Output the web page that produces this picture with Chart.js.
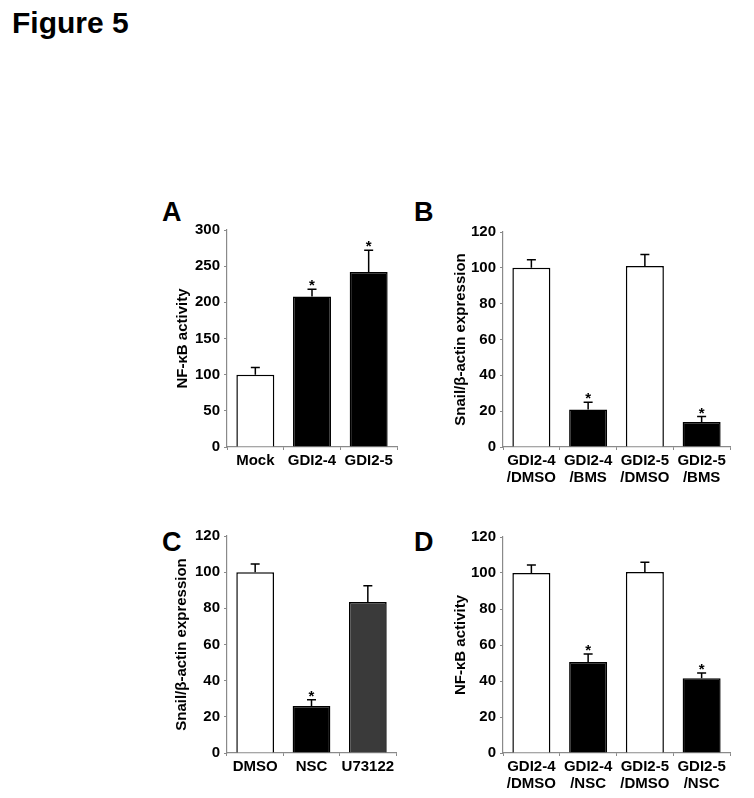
<!DOCTYPE html>
<html>
<head>
<meta charset="utf-8">
<script src="https://cdn.jsdelivr.net/npm/chart.js@4"></script>
<style>
  html, body { margin: 0; padding: 0; background: #fff; overflow: hidden; }
  body { width: 754px; height: 798px; position: relative; font-family: "Liberation Sans", Arial, sans-serif; }
  canvas { position: absolute; }
  .lbl { position: absolute; font-weight: bold; line-height: 1; color: #000; }
</style>
</head>
<body>
<div class="lbl" style="left:12px; top:8px; font-size:30px;">Figure 5</div>
<div class="lbl" style="left:162px; top:199px; font-size:27px;">A</div>
<div class="lbl" style="left:414px; top:199px; font-size:27px;">B</div>
<div class="lbl" style="left:162px; top:529px; font-size:27px;">C</div>
<div class="lbl" style="left:414px; top:529px; font-size:27px;">D</div>

<canvas id="chartA"></canvas>
<canvas id="chartB"></canvas>
<canvas id="chartC"></canvas>
<canvas id="chartD"></canvas>

<script>
// panel A
const catsA = ['Mock', 'GDI2-4', 'GDI2-5'];
const valsA = [100, 208, 242];
const errsA = [10, 10, 30];
const starsA = [false, true, true];

// panel B
const catsB = [['GDI2-4', '/DMSO'], ['GDI2-4', '/BMS'], ['GDI2-5', '/DMSO'], ['GDI2-5', '/BMS']];
const valsB = [100, 21, 101, 14];
const errsB = [4.5, 4, 6.5, 3];
const starsB = [false, true, false, true];

// panel C
const catsC = ['DMSO', 'NSC', 'U73122'];
const valsC = [100, 26, 83.5];
const errsC = [4.5, 3.5, 9];
const starsC = [false, true, false];

// panel D
const catsD = [['GDI2-4', '/DMSO'], ['GDI2-4', '/NSC'], ['GDI2-5', '/DMSO'], ['GDI2-5', '/NSC']];
const valsD = [100, 50.5, 100.5, 41.5];
const errsD = [4.5, 4.5, 5.5, 3];
const starsD = [false, true, false, true];

const FONT = '"Liberation Sans", Arial, sans-serif';
const AXIS = '#8a8a8a';

// error bars (upper only) + significance stars
const errorBars = {
    id: 'errorBars',
    afterDatasetsDraw(chart) {
        const ds = chart.data.datasets[0];
        const meta = chart.getDatasetMeta(0);
        const y = chart.scales.y;
        const ctx = chart.ctx;
        ctx.save();
        ctx.strokeStyle = '#000';
        ctx.lineWidth = 1.5;
        meta.data.forEach((bar, i) => {
            const top = y.getPixelForValue(ds.data[i] + ds.errors[i]);
            ctx.beginPath();
            ctx.moveTo(bar.x, bar.y);
            ctx.lineTo(bar.x, top);
            ctx.moveTo(bar.x - 4.5, top);
            ctx.lineTo(bar.x + 4.5, top);
            ctx.stroke();
            if (ds.stars[i]) {
                ctx.fillStyle = '#000';
                ctx.font = 'bold 15px ' + FONT;
                ctx.textAlign = 'center';
                ctx.textBaseline = 'alphabetic';
                ctx.fillText('*', bar.x, top + 1);
            }
        });
        ctx.restore();
    }
};

function makePanel(id, box, labels, values, errors, stars, colors, yMax, step, title, titlePad) {
    const cv = document.getElementById(id);
    const left = box[0] - 67, top = box[1] - 15;
    cv.width = box[2] - box[0] + 67 + 8;
    cv.height = box[3] - box[1] + 15 + 50;
    cv.style.left = left + 'px';
    cv.style.top = top + 'px';

    return new Chart(cv.getContext('2d'), {
        type: 'bar',
        data: {
            labels: labels,
            datasets: [{
                data: values,
                errors: errors,
                stars: stars,
                backgroundColor: colors,
                borderColor: '#000',
                borderWidth: 1.5,
                borderSkipped: 'bottom',
                categoryPercentage: 1,
                barPercentage: 0.67
            }]
        },
        options: {
            responsive: false,
            animation: false,
            devicePixelRatio: 1,
            layout: { padding: { top: 15, right: 8, left: 0, bottom: 0 } },
            plugins: { legend: { display: false }, tooltip: { enabled: false } },
            scales: {
                x: {
                    grid: { display: true, drawOnChartArea: false, offset: true, tickLength: 3, color: AXIS },
                    border: { color: AXIS, width: 1.2 },
                    ticks: { color: '#000', padding: 2, maxRotation: 0, autoSkip: false,
                        font: { family: FONT, size: 15, weight: 'bold', lineHeight: 1.15 } },
                    afterFit: s => { s.height = 50; }
                },
                y: {
                    min: 0, max: yMax,
                    grid: { display: true, drawOnChartArea: false, tickLength: 3, color: AXIS },
                    border: { color: AXIS, width: 1.2 },
                    ticks: { stepSize: step, color: '#000', padding: 4,
                        font: { family: FONT, size: 15, weight: 'bold' } },
                    title: { display: true, text: title, color: '#000', padding: { top: titlePad, bottom: 0 },
                        font: { family: FONT, size: 15, weight: 'bold' } },
                    afterFit: s => { s.width = 67; }
                }
            }
        },
        plugins: [errorBars]
    });
}

makePanel('chartA', [227, 230, 397, 447], catsA, valsA, errsA, starsA,
    ['#ffffff', '#000000', '#000000'], 300, 50, 'NF-κB activity', 14);
makePanel('chartB', [503, 232, 730, 447], catsB, valsB, errsB, starsB,
    ['#ffffff', '#000000', '#ffffff', '#000000'], 120, 20, 'Snail/β-actin expression', 16);
makePanel('chartC', [227, 536, 396, 753], catsC, valsC, errsC, starsC,
    ['#ffffff', '#000000', '#3a3a3a'], 120, 20, 'Snail/β-actin expression', 13);
makePanel('chartD', [503, 537, 730, 753], catsD, valsD, errsD, starsD,
    ['#ffffff', '#000000', '#ffffff', '#000000'], 120, 20, 'NF-κB activity', 16);
</script>
</body>
</html>
